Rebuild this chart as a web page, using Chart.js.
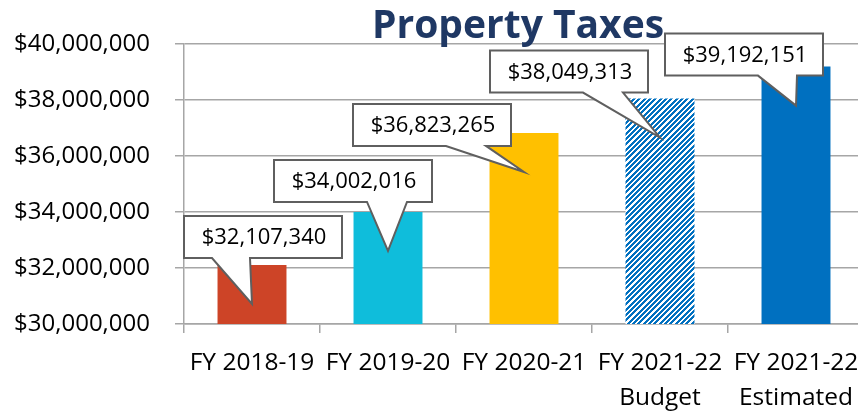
<!DOCTYPE html>
<html>
<head>
<meta charset="utf-8">
<script src="https://cdn.jsdelivr.net/npm/chart.js@4/dist/chart.umd.min.js"></script>
<style>
  html, body { margin: 0; padding: 0; background: #fff; overflow: hidden; }
  #wrap { width: 858px; height: 411px; overflow: hidden; }
</style>
</head>
<body>
<div id="wrap"><canvas id="taxchart" width="866" height="411"></canvas></div>
<script>
// data
const years = [['FY 2018-19'], ['FY 2019-20'], ['FY 2020-21'], ['FY 2021-22', 'Budget'], ['FY 2021-22', 'Estimated']]
const taxes = [32107340, 34002016, 36823265, 38049313, 39192151]
const yMin = 30000000
const yMax = 40000000
const yStep = 2000000

const barColors = ['#cd4427', '#0fbddb', '#ffc000', 'hatch', '#0070c0']
const gridGray = '#a6a6a6'

// callout box offsets from the pointer tip: [left, top]
const calloutOffsets = [[-68, -88], [-114, -91], [-171, -68], [-170, -87], [-131, -72]]
// pointer base along the box bottom, relative to tip x: [from, to]
const pointerBase = [[-40, -2], [-21, 19], [-78, -38], [-77, -37], [-38, 1]]

const money = v => '$' + Number(v).toLocaleString('en-US')

// diagonal stripe pattern for the budget bar
const makeHatch = () => {
    const n = 16
    const c = document.createElement('canvas')
    c.width = n
    c.height = n
    const g = c.getContext('2d')
    const img = g.createImageData(n, n)
    for (let y = 0; y < n; y++) {
        for (let x = 0; x < n; x++) {
            const i = (y * n + x) * 4
            const blue = ((x + y) * 3) % 16 < 9
            img.data[i] = blue ? 0 : 255
            img.data[i + 1] = blue ? 112 : 255
            img.data[i + 2] = blue ? 192 : 255
            img.data[i + 3] = 255
        }
    }
    g.putImageData(img, 0, 0)
    return document.createElement('canvas').getContext('2d').createPattern(c, 'repeat')
}

const calloutPlugin = {
    id: 'callouts',
    afterDatasetsDraw(chart) {
        const ctx = chart.ctx
        const meta = chart.getDatasetMeta(0)
        ctx.save()
        ctx.font = '22px "Open Sans"'
        ctx.textAlign = 'center'
        ctx.textBaseline = 'middle'
        meta.data.forEach((bar, i) => {
            const tx = bar.x
            const ty = bar.y + 39
            const w = 158, h = 42
            const left = tx + calloutOffsets[i][0]
            const top = ty + calloutOffsets[i][1]
            const bottom = top + h
            ctx.beginPath()
            ctx.moveTo(left, top)
            ctx.lineTo(left + w, top)
            ctx.lineTo(left + w, bottom)
            ctx.lineTo(tx + pointerBase[i][1], bottom)
            ctx.lineTo(tx, ty)
            ctx.lineTo(tx + pointerBase[i][0], bottom)
            ctx.lineTo(left, bottom)
            ctx.closePath()
            ctx.fillStyle = '#fff'
            ctx.fill()
            ctx.lineWidth = 2
            ctx.strokeStyle = '#5f5f5f'
            ctx.stroke()
            ctx.fillStyle = '#000'
            ctx.fillText(money(taxes[i]), left + w / 2 + 1, top + h / 2 + 1)
        })
        ctx.restore()
    },
    afterDraw(chart) {
        const ctx = chart.ctx
        ctx.save()
        ctx.font = 'bold 39px "Open Sans"'
        ctx.fillStyle = '#1f3864'
        ctx.textAlign = 'center'
        ctx.textBaseline = 'alphabetic'
        ctx.fillText('Property Taxes', 518, 38)
        ctx.restore()
    }
}

document.addEventListener('DOMContentLoaded', () => {
    const hatch = makeHatch()
    const data = {
        labels: years,
        datasets: [{
            label: 'Property Taxes',
            data: taxes,
            backgroundColor: barColors.map(c => c === 'hatch' ? hatch : c),
            borderWidth: 0,
            barPercentage: 0.507,
            categoryPercentage: 1
        }]
    }
    const config = {
        type: 'bar',
        data,
        options: {
            responsive: false,
            animation: false,
            layout: { padding: { top: 44, right: 2, left: 0, bottom: 0 } },
            plugins: {
                legend: { display: false },
                tooltip: { enabled: false },
                title: { display: false }
            },
            scales: {
                x: {
                    grid: { drawOnChartArea: false, drawTicks: true, tickLength: 9, color: gridGray, lineWidth: 1.5 },
                    border: { color: gridGray, width: 1.5 },
                    ticks: {
                        color: '#000',
                        padding: 12,
                        maxRotation: 0,
                        autoSkip: false,
                        font: { family: '"Open Sans"', size: 24.5, lineHeight: 1.45 }
                    },
                    afterFit: s => {
                        s.height = 87
                        s.paddingLeft = 0
                        s.paddingRight = 0
                    }
                },
                y: {
                    min: yMin,
                    max: yMax,
                    grid: { color: gridGray, lineWidth: 1.5, tickLength: 9 },
                    border: { color: gridGray, width: 1.5 },
                    ticks: {
                        stepSize: yStep,
                        color: '#000',
                        padding: 25,
                        font: { family: '"Open Sans"', size: 24 },
                        callback: v => money(v)
                    },
                    afterFit: s => {
                        s.width = 184
                        s.paddingTop = 0
                        s.paddingBottom = 0
                    }
                }
            }
        },
        plugins: [calloutPlugin]
    }
    let chart1 = new Chart(document.querySelector('#taxchart'), config)
})
</script>
</body>
</html>
